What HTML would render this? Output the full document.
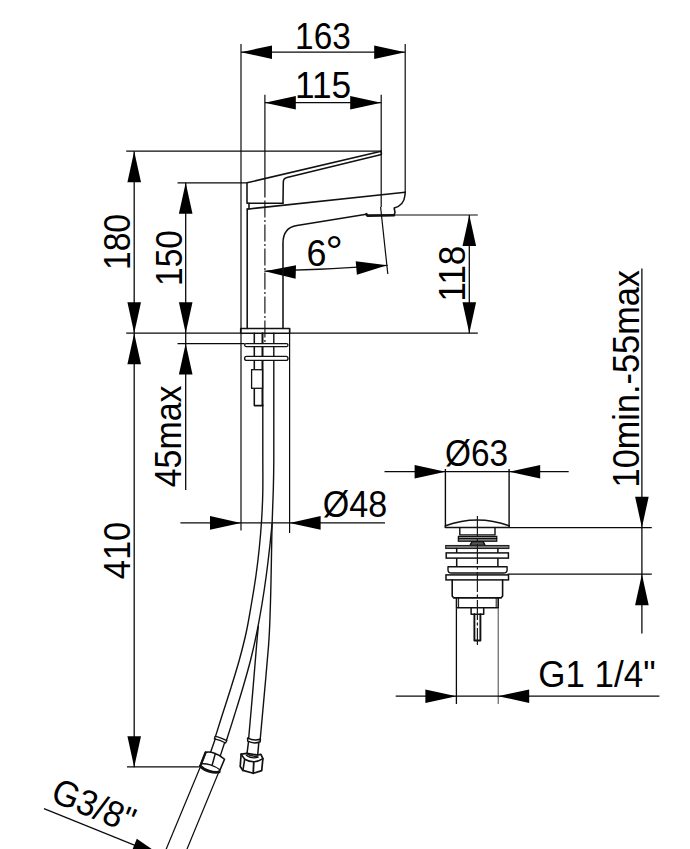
<!DOCTYPE html>
<html><head><meta charset="utf-8"><title>Faucet drawing</title>
<style>
html,body{margin:0;padding:0;background:#fff;}
body{width:690px;height:849px;overflow:hidden;font-family:"Liberation Sans",sans-serif;}
svg{display:block}
svg text{font-family:"Liberation Sans",sans-serif;fill:#000;}
</style></head><body>
<svg width="690" height="849" viewBox="0 0 690 849">
<rect width="690" height="849" fill="#fff"/>
<line x1="241" y1="44" x2="241" y2="328.4" stroke="#0a0a0a" stroke-width="1.2" />
<line x1="405.2" y1="44" x2="405.2" y2="192.2" stroke="#0a0a0a" stroke-width="1.2" />
<line x1="241" y1="52.2" x2="405.2" y2="52.2" stroke="#0a0a0a" stroke-width="1.3" />
<polygon points="241.0,52.2 272.0,45.4 272.0,59.0" fill="#000"/>
<polygon points="405.2,52.2 374.2,59.0 374.2,45.4" fill="#000"/>
<line x1="264.9" y1="94.8" x2="264.9" y2="197.5" stroke="#0a0a0a" stroke-width="1.2" />
<line x1="381.2" y1="94.8" x2="381.2" y2="207" stroke="#0a0a0a" stroke-width="1.2" />
<line x1="264.8" y1="102.7" x2="381.2" y2="102.7" stroke="#0a0a0a" stroke-width="1.3" />
<polygon points="264.8,102.7 295.8,95.9 295.8,109.5" fill="#000"/>
<polygon points="381.2,102.7 350.2,109.5 350.2,95.9" fill="#000"/>
<line x1="264.9" y1="200.5" x2="264.9" y2="343" stroke="#1a1a1a" stroke-width="1.2" stroke-dasharray="17 2.5 2 2.5"/>
<line x1="126.2" y1="151.2" x2="381.2" y2="151.2" stroke="#0a0a0a" stroke-width="1.2" />
<line x1="177.5" y1="182.8" x2="247" y2="182.8" stroke="#0a0a0a" stroke-width="1.2" />
<line x1="126.2" y1="333.2" x2="240.7" y2="333.2" stroke="#0a0a0a" stroke-width="1.2" />
<line x1="177.5" y1="343.6" x2="244.6" y2="343.6" stroke="#0a0a0a" stroke-width="1.2" />
<line x1="289.6" y1="333.2" x2="477.8" y2="333.2" stroke="#0a0a0a" stroke-width="1.2" />
<line x1="394" y1="215" x2="477.8" y2="215" stroke="#0a0a0a" stroke-width="1.2" />
<line x1="134.2" y1="151.2" x2="134.2" y2="767.2" stroke="#0a0a0a" stroke-width="1.3" />
<polygon points="134.2,151.2 141.0,182.2 127.4,182.2" fill="#000"/>
<polygon points="134.2,333.2 127.4,302.2 141.0,302.2" fill="#000"/>
<polygon points="134.2,333.2 141.0,364.2 127.4,364.2" fill="#000"/>
<polygon points="134.2,767.2 127.4,736.2 141.0,736.2" fill="#000"/>
<line x1="185.7" y1="182.8" x2="185.7" y2="490" stroke="#0a0a0a" stroke-width="1.3" />
<polygon points="185.7,182.8 192.5,213.8 178.9,213.8" fill="#000"/>
<polygon points="185.7,333.2 178.9,302.2 192.5,302.2" fill="#000"/>
<polygon points="185.7,343.6 192.5,374.6 178.9,374.6" fill="#000"/>
<line x1="469.3" y1="215" x2="469.3" y2="333.2" stroke="#0a0a0a" stroke-width="1.3" />
<polygon points="469.3,215.0 476.1,246.0 462.5,246.0" fill="#000"/>
<polygon points="469.3,333.2 462.5,302.2 476.1,302.2" fill="#000"/>
<line x1="127" y1="766.9" x2="199.8" y2="766.9" stroke="#0a0a0a" stroke-width="1.2" />
<line x1="241" y1="328.4" x2="241" y2="530.4" stroke="#0a0a0a" stroke-width="1.2" />
<line x1="289.6" y1="328.4" x2="289.6" y2="533" stroke="#0a0a0a" stroke-width="1.2" />
<line x1="180.4" y1="522.9" x2="385" y2="522.9" stroke="#0a0a0a" stroke-width="1.3" />
<polygon points="241.0,522.9 210.0,529.7 210.0,516.1" fill="#000"/>
<polygon points="289.6,522.9 320.6,516.1 320.6,529.7" fill="#000"/>
<line x1="380.6" y1="207" x2="387.8" y2="274" stroke="#0a0a0a" stroke-width="1.2" />
<path d="M264.8,271.2 Q326,269.6 387.2,265.3" stroke="#111" stroke-width="1.2" fill="none" stroke-linejoin="round" stroke-linecap="round" />
<polygon points="264.8,271.2 296.0,265.2 295.6,278.8" fill="#000"/>
<polygon points="387.2,265.3 356.9,274.8 355.7,261.2" fill="#000"/>
<path d="M381.2,151.2 L247,182.8 L247,203.3 L283,203.3" stroke="#111" stroke-width="1.55" fill="none" stroke-linejoin="round" stroke-linecap="round" />
<path d="M381.2,151.2 L381.4,154.4 L287,177.6 Q283.4,178.5 283.3,182 L283,203.3" stroke="#111" stroke-width="1.55" fill="none" stroke-linejoin="round" stroke-linecap="round" />
<path d="M249,203.3 L249,208.9 L405.2,192.2" stroke="#111" stroke-width="1.55" fill="none" stroke-linejoin="round" stroke-linecap="round" />
<path d="M247.2,208.9 L249,208.9" stroke="#111" stroke-width="1.55" fill="none" stroke-linejoin="round" stroke-linecap="round" />
<path d="M247.2,208.9 L247.2,328.4" stroke="#111" stroke-width="1.55" fill="none" stroke-linejoin="round" stroke-linecap="round" />
<path d="M283,328.4 L283,243 Q283,227.5 297,225.4 L366.4,214.2" stroke="#111" stroke-width="1.55" fill="none" stroke-linejoin="round" stroke-linecap="round" />
<path d="M405.2,192.2 L405,195 Q404,205.5 394.2,208 L395,212.6 L394,214.8" stroke="#111" stroke-width="1.55" fill="none" stroke-linejoin="round" stroke-linecap="round" />
<path d="M366.4,214.2 L367.5,215.6 L394,215.2" stroke="#111" stroke-width="2.6" fill="none" stroke-linejoin="round" stroke-linecap="round" />
<path d="M240.7,328.4 H289.6 V333.2 H240.7 Z" stroke="#111" stroke-width="1.55" fill="none" stroke-linejoin="round" stroke-linecap="round" />
<path d="M254.3,333.2 V405.6 H262.5" stroke="#111" stroke-width="1.55" fill="none" stroke-linejoin="round" stroke-linecap="round" />
<path d="M262.5,333.2 V405.6" stroke="#111" stroke-width="2.0" fill="none" stroke-linejoin="round" stroke-linecap="round" />
<rect x="251.6" y="369.7" width="10.9" height="18.6" fill="#fff" stroke="#111" stroke-width="1.3"/>
<path d="M262.8,405 C262.80,412.50 262.80,435.50 262.8,450 C262.80,464.50 263.00,480.33 262.8,492 C262.60,503.67 262.18,510.67 261.6,520 C261.02,529.33 260.25,538.67 259.3,548 C258.35,557.33 257.22,566.67 255.9,576 C254.58,585.33 253.00,594.67 251.4,604 C249.80,613.33 248.32,622.67 246.3,632 C244.28,641.33 241.87,650.67 239.3,660 C236.73,669.33 233.80,678.67 230.9,688 C228.00,697.33 224.47,707.93 221.9,716 C219.33,724.07 216.57,733.00 215.5,736.4" stroke="#111" stroke-width="1.4" fill="none" stroke-linejoin="round" stroke-linecap="round" />
<path d="M272.1,523.7 C271.68,527.75 270.58,539.28 269.6,548 C268.62,556.72 267.47,566.67 266.2,576 C264.93,585.33 263.55,594.67 262,604 C260.45,613.33 258.80,622.67 256.9,632 C255.00,641.33 252.95,650.67 250.6,660 C248.25,669.33 245.53,678.67 242.8,688 C240.07,697.33 236.90,707.33 234.2,716 C231.50,724.67 227.87,736.00 226.6,740" stroke="#111" stroke-width="1.4" fill="none" stroke-linejoin="round" stroke-linecap="round" />
<path d="M273.8,333.2 C273.80,344.33 273.80,378.87 273.8,400 C273.80,421.13 273.88,445.00 273.8,460 C273.72,475.00 273.58,479.38 273.3,490 C273.02,500.62 272.42,512.03 272.1,523.7 C271.78,535.37 271.62,548.95 271.4,560 C271.18,571.05 271.05,580.00 270.8,590 C270.55,600.00 270.27,610.83 269.9,620 C269.53,629.17 269.50,632.98 268.6,645 C267.70,657.02 265.92,676.20 264.5,692.1 C263.08,708.00 260.83,732.35 260.1,740.4" stroke="#111" stroke-width="1.4" fill="none" stroke-linejoin="round" stroke-linecap="round" />
<path d="M258.3,626.5 C258.02,629.58 257.53,634.07 256.6,645 C255.67,655.93 254.02,676.60 252.7,692.1 C251.38,707.60 249.37,730.35 248.7,738" stroke="#111" stroke-width="1.4" fill="none" stroke-linejoin="round" stroke-linecap="round" />
<rect x="244.6" y="343.6" width="43.4" height="3" rx="1.5" fill="#fff" stroke="#111" stroke-width="1.3"/>
<rect x="244.6" y="356.4" width="43.4" height="4" rx="2" fill="#fff" stroke="#111" stroke-width="1.3"/>
<path d="M215.1,736.3 Q220,737 226.8,740.6 L225.6,743 Q220,739.8 214.4,738.8 Z" stroke="#111" stroke-width="1.3" fill="#fff" stroke-linejoin="round" stroke-linecap="round" />
<path d="M247.6,737.9 Q254,741.5 260.4,739 L260.2,741.8 Q254,744.3 247.7,741.2 Z" stroke="#111" stroke-width="1.5" fill="#fff" stroke-linejoin="round" stroke-linecap="round" />
<path d="M215.3,738.8 L210.4,752.7" stroke="#111" stroke-width="1.4" fill="none" stroke-linejoin="round" stroke-linecap="round" />
<path d="M224.5,743 L220.3,755.9" stroke="#111" stroke-width="1.4" fill="none" stroke-linejoin="round" stroke-linecap="round" />
<path d="M248.5,741.8 L247,753.6" stroke="#111" stroke-width="1.5" fill="none" stroke-linejoin="round" stroke-linecap="round" />
<path d="M258.8,742.7 L257.6,755.9" stroke="#111" stroke-width="1.5" fill="none" stroke-linejoin="round" stroke-linecap="round" />
<path d="M205.6,752.4 C210,751.3 218.5,753.2 224.5,759.2 L219.6,771 C214,773.8 204,770.2 200.2,766 Z" stroke="#111" stroke-width="1.6" fill="#fff" stroke-linejoin="round" stroke-linecap="round" />
<path d="M205.6,752.4 L200.4,765.8" stroke="#111" stroke-width="2.3" fill="none" stroke-linejoin="round" stroke-linecap="round" />
<path d="M215.3,753.6 L212.1,765.3" stroke="#111" stroke-width="1.5" fill="none" stroke-linejoin="round" stroke-linecap="round" />
<path d="M201.5,763.9 C206,763 214.5,765.5 219.9,769.8" stroke="#111" stroke-width="1.4" fill="none" stroke-linejoin="round" stroke-linecap="round" />
<path d="M200.4,766.2 C204,770.2 213,773.2 219.2,772" stroke="#111" stroke-width="2.8" fill="none" stroke-linejoin="round" stroke-linecap="round" />
<path d="M241.1,754.2 L247,753.4 L257.7,755 L260.9,754.4 L262.9,758.6 L261.7,770.6 L253.2,773.3 L242.9,770.4 L240.2,766.5 Z" stroke="#111" stroke-width="1.7" fill="#fff" stroke-linejoin="round" stroke-linecap="round" />
<path d="M241.1,754.2 L244.7,759.2 Q249,761.6 253.8,761.8 Q258.5,761.5 262.9,758.6" stroke="#111" stroke-width="1.6" fill="none" stroke-linejoin="round" stroke-linecap="round" />
<path d="M244.7,759.2 L242.9,770.4" stroke="#111" stroke-width="1.6" fill="none" stroke-linejoin="round" stroke-linecap="round" />
<path d="M253.8,761.8 L253.2,773.3" stroke="#111" stroke-width="1.8" fill="none" stroke-linejoin="round" stroke-linecap="round" />
<path d="M247,753.6 Q252,757.2 257.6,755.9" stroke="#111" stroke-width="1.5" fill="none" stroke-linejoin="round" stroke-linecap="round" />
<path d="M246.4,755.4 Q252,759.2 258.2,757.2" stroke="#111" stroke-width="1.3" fill="none" stroke-linejoin="round" stroke-linecap="round" />
<line x1="200" y1="767.7" x2="165.4" y2="851" stroke="#0a0a0a" stroke-width="1.2" />
<line x1="218.6" y1="772.4" x2="186.2" y2="851" stroke="#0a0a0a" stroke-width="1.2" />
<line x1="44" y1="808.6" x2="163" y2="856.7" stroke="#0a0a0a" stroke-width="1.3" />
<polygon points="163.0,856.7 131.7,851.4 136.8,838.8" fill="#000"/>
<line x1="445.4" y1="469" x2="445.4" y2="527.7" stroke="#0a0a0a" stroke-width="1.4" />
<line x1="509.1" y1="469" x2="509.1" y2="527.7" stroke="#0a0a0a" stroke-width="1.4" />
<line x1="384.5" y1="471.7" x2="568.7" y2="471.7" stroke="#0a0a0a" stroke-width="1.3" />
<polygon points="445.6,471.7 414.6,478.5 414.6,464.9" fill="#000"/>
<polygon points="509.2,471.7 540.2,464.9 540.2,478.5" fill="#000"/>
<line x1="509.2" y1="527.7" x2="651.8" y2="527.7" stroke="#0a0a0a" stroke-width="1.2" />
<line x1="507.5" y1="574.2" x2="651.8" y2="574.2" stroke="#0a0a0a" stroke-width="1.2" />
<line x1="641.9" y1="268.6" x2="641.9" y2="633.4" stroke="#0a0a0a" stroke-width="1.3" />
<polygon points="641.9,527.7 635.1,496.7 648.7,496.7" fill="#000"/>
<polygon points="641.9,574.2 648.7,605.2 635.1,605.2" fill="#000"/>
<line x1="456.4" y1="608.2" x2="456.4" y2="704" stroke="#0a0a0a" stroke-width="1.3" />
<line x1="498.2" y1="608.2" x2="498.2" y2="704" stroke="#444" stroke-width="1.0" />
<line x1="395.7" y1="696.2" x2="659.4" y2="696.2" stroke="#0a0a0a" stroke-width="1.3" />
<polygon points="456.4,696.2 425.4,703.0 425.4,689.4" fill="#000"/>
<polygon points="498.2,696.2 529.2,689.4 529.2,703.0" fill="#000"/>
<path d="M445.4,527.6 L445.4,525.7 Q477.3,514.2 509.1,525.7 L509.1,527.6 Z" stroke="#111" stroke-width="1.5" fill="#fff" stroke-linejoin="round" stroke-linecap="round" />
<path d="M459.8,527.6 V534.9 M495,527.6 V534.9 M459.8,534.9 H495" stroke="#111" stroke-width="1.4" fill="none" stroke-linejoin="round" stroke-linecap="round" />
<rect x="458.4" y="536.4" width="38.3" height="4.8" fill="#9a9a9a" stroke="#111" stroke-width="1.3"/>
<path d="M458.4,538.6 H496.7" stroke="#111" stroke-width="1.2" fill="none" stroke-linejoin="round" stroke-linecap="round" />
<path d="M470,545.4 L472,541.6 H483.2 L485.1,545.4 Z" stroke="#111" stroke-width="1.3" fill="#555" stroke-linejoin="round" stroke-linecap="round" />
<rect x="445.7" y="545.5" width="63.2" height="3" fill="#777" stroke="#222" stroke-width="1.1"/>
<path d="M456.7,548.5 V552.9 M497.9,548.5 V552.9 M456.7,558.1 V566.8 M497.9,558.1 V566.8" stroke="#111" stroke-width="1.5" fill="none" stroke-linejoin="round" stroke-linecap="round" />
<rect x="446.2" y="552.9" width="62.2" height="5.2" fill="#fff" stroke="#111" stroke-width="1.5"/>
<path d="M448,566.8 H507.1 V570 Q507.1,573 503.5,573 H451.6 Q448,573 448,570 Z" stroke="#111" stroke-width="1.4" fill="#fff" stroke-linejoin="round" stroke-linecap="round" />
<rect x="446" y="574.9" width="62.5" height="5" fill="#fff" stroke="#111" stroke-width="1.5"/>
<path d="M452.2,579.9 V596 L453.8,597.9 H501 L502.6,596 V579.9" stroke="#111" stroke-width="1.6" fill="none" stroke-linejoin="round" stroke-linecap="round" />
<path d="M456.5,598 V607.8 H498.2 V598" stroke="#111" stroke-width="1.6" fill="none" stroke-linejoin="round" stroke-linecap="round" />
<path d="M458.6,598 V607 M496.2,598 V607" stroke="#111" stroke-width="1.0" fill="none" stroke-linejoin="round" stroke-linecap="round" />
<path d="M471.1,608.2 V614.2 H483.7 V608.2" stroke="#111" stroke-width="1.5" fill="none" stroke-linejoin="round" stroke-linecap="round" />
<path d="M474.4,614.2 V640.5 H480.4 V614.2" stroke="#111" stroke-width="1.9" fill="none" stroke-linejoin="round" stroke-linecap="round" />
<line x1="477.4" y1="516" x2="477.4" y2="645" stroke="#1a1a1a" stroke-width="1.2" stroke-dasharray="20 2.5 3 2.5"/>
<text transform="translate(297.7,48.6) rotate(0) scale(0.8780,0.9926)" x="-3.0" y="0" font-size="38">163</text>
<text transform="translate(297.7,98.1) rotate(0) scale(0.9286,0.9741)" x="-3.0" y="0" font-size="38">115</text>
<text transform="translate(308.3,265.8) rotate(0) scale(0.9444,0.9963)" x="-2.0" y="0" font-size="38">6</text>
<text transform="translate(327.8,265.8) rotate(0) scale(1.1455,1.1318)" x="-2.0" y="0" font-size="38">°</text>
<text transform="translate(130.1,267.4) rotate(-90) scale(0.8847,0.9667)" x="-3.0" y="0" font-size="38">180</text>
<text transform="translate(182,283.3) rotate(-90) scale(0.8831,0.9926)" x="-3.0" y="0" font-size="38">150</text>
<text transform="translate(465.1,299) rotate(-90) scale(0.9286,0.9815)" x="-3.0" y="0" font-size="38">118</text>
<text transform="translate(181.3,486.4) rotate(-90) scale(0.8920,0.9926)" x="-1.0" y="0" font-size="38">45max</text>
<text transform="translate(130,578.3) rotate(-90) scale(0.9066,0.9815)" x="-1.0" y="0" font-size="38">410</text>
<text transform="translate(324.6,516.9) rotate(0) scale(0.8971,0.9667)" x="-2.0" y="0" font-size="38">Ø48</text>
<text transform="translate(446.7,466.3) rotate(0) scale(0.8794,0.9926)" x="-2.0" y="0" font-size="38">Ø63</text>
<text transform="translate(638.7,484.7) rotate(-90) scale(0.9030,0.9571)" x="-3.0" y="0" font-size="38">10min.-55max</text>
<text transform="translate(540.1,687.1) rotate(0) scale(0.9202,0.9500)" x="-2.0" y="0" font-size="38">G1 1/4&quot;</text>
<text transform="translate(50.8,801.3) rotate(22.5) scale(0.9022,0.9571)" x="-2.0" y="0" font-size="38">G3/8&quot;</text>
</svg>
</body></html>
